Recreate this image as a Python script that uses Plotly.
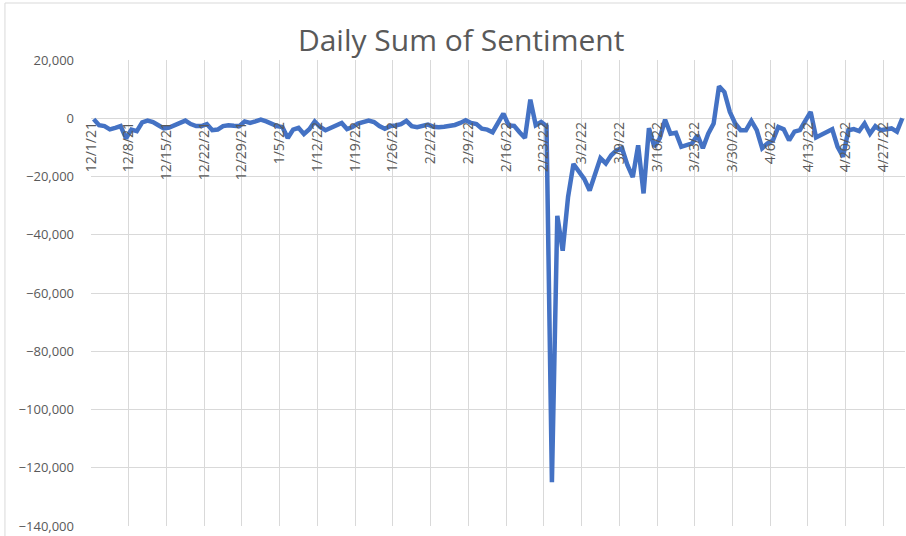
import pandas as pd
import plotly.graph_objects as go

# daily sentiment sums (one value per day)
dec = [-300, -2400, -2700, -3800, -3300, -2700, -6900, -3900, -4400, -1400,
       -800, -1300, -2400, -3500, -3200, -2300, -1300, -800, -2000, -2700,
       -2700, -2000, -4100, -3900, -2700, -2400, -2600, -2700, -1100, -1600,
       -1100]
jan = [-500, -1100, -2000, -2700, -3000, -6800, -3900, -3300, -5400, -3800,
       -1100, -3000, -4100, -3200, -2300, -1600, -3700, -3000, -1800, -1100,
       -800, -1300, -2700, -3600, -2700, -2500, -2000, -900, -2700, -3100,
       -2500]
feb = [-2200, -2900, -3100, -2900, -2700, -2300, -1600, -700, -1600, -2000,
       -3600, -3900, -4800, -1800, 1600, -2500, -2600, -4800, -6800, 6400,
       -2400, -1300, -2700, -125000, -33500, -45500, -27000, -15700]
mar = [-18600, -20800, -24800, -19000, -13700, -15500, -12700, -11000, -10300, -16000,
       -20200, -9300, -25800, -3400, -9800, -6900, -500, -5300, -5000, -9800,
       -9300, -8600, -5800, -10300, -5300, -1800, 11000, 9000, 2200, -1800,
       -4100]
apr = [-4100, -900, -4100, -10300, -8600, -7600, -3000, -3800, -7600, -4600,
       -4100, -900, 2200, -6600, -5600, -4600, -3800, -9800, -13200, -4100,
       -3700, -4400, -1800, -5300, -2700, -4100, -3700, -3500, -4600, 0]

values = dec + jan + feb + mar + apr
dates = pd.date_range("2021-12-01", "2022-04-30", freq="D")
tick_dates = pd.date_range("2021-12-01", "2022-04-27", freq="7D")
tick_labels = [f"{d.month}/{d.day}/{d.strftime('%y')}" for d in tick_dates]

grey = "#D9D9D9"
text_grey = "#595959"
font = "Open Sans"

fig = go.Figure(go.Scatter(
    x=dates, y=values, mode="lines",
    xperiod=86400000, xperiodalignment="middle",
    line=dict(color="#4472C4", width=4.5),
))

fig.update_layout(
    width=906, height=536,
    margin=dict(l=91, r=1, t=60, b=10),
    paper_bgcolor="white", plot_bgcolor="white",
    showlegend=False,
    font=dict(family=font, color=text_grey, size=13),
    title=dict(text="Daily Sum of Sentiment", x=0.509, xanchor="center",
               y=0.925, yanchor="middle", yref="container",
               font=dict(family=font, size=30, color=text_grey)),
    xaxis=dict(
        range=["2021-12-01", "2022-05-01"],
        tickvals=tick_dates, ticktext=tick_labels, tickangle=-90,
        showgrid=True, gridcolor=grey, gridwidth=1,
        anchor="free", position=0.875,
        showline=False, zeroline=False, ticks="",
        tickfont=dict(size=14, color=text_grey),
    ),
    yaxis=dict(
        range=[-140000, 20000], dtick=20000, tickformat=",.0f",
        showgrid=True, gridcolor=grey, gridwidth=1,
        zeroline=False, showline=False, ticks="",
        ticklabelstandoff=16,
        tickfont=dict(size=13, color=text_grey),
    ),
    shapes=[dict(type="rect", xref="paper", yref="paper",
                 x0=-0.1057, x1=1.05, y0=-0.05, y1=1.1223,
                 line=dict(color=grey, width=1), layer="below")],
)

# page body margin would push the chart 8px off the window
fig.write_html("out.html", config={"displayModeBar": False},
               post_script="document.body.style.margin='0';")
